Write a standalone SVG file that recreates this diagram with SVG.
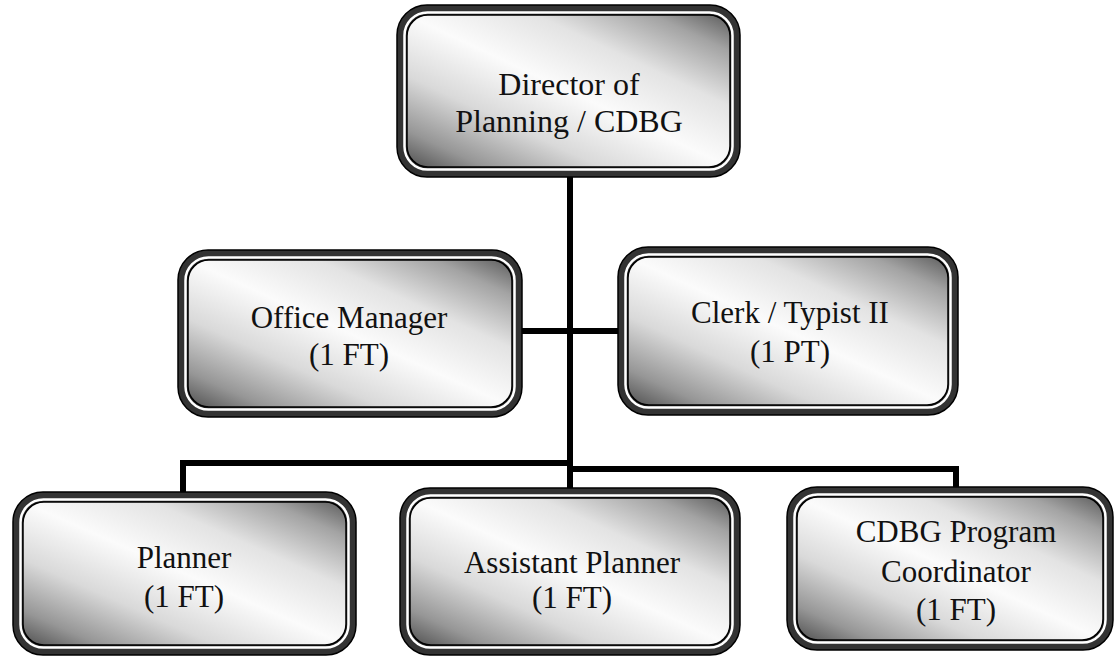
<svg xmlns="http://www.w3.org/2000/svg" width="1115" height="657" viewBox="0 0 1115 657">
<style>
.outer{fill:#333;stroke:#000;stroke-width:1.5}
.ring{fill:none;stroke:#fff;stroke-width:2.5}
.inner{fill:url(#g);stroke:#000;stroke-width:1.5}
.t{font-family:"Liberation Serif","Times New Roman",serif;font-size:31px;fill:#111;text-anchor:middle}
.big{font-size:32px}
.c{stroke:#000;stroke-width:6;fill:none;stroke-linecap:square}
</style>
<defs>
<linearGradient id="g" x1="0" y1="1" x2="1" y2="0">
<stop offset="0" stop-color="#505050"/>
<stop offset="0.12" stop-color="#969696"/>
<stop offset="0.3" stop-color="#d9d9d9"/>
<stop offset="0.5" stop-color="#fbfbfb"/>
<stop offset="0.7" stop-color="#e3e3e3"/>
<stop offset="0.88" stop-color="#a3a3a3"/>
<stop offset="1" stop-color="#5c5c5c"/>
</linearGradient>
</defs>
<rect width="1115" height="657" fill="#fff"/>
<g id="connectors">
<line class="c" x1="570" y1="177" x2="570" y2="486"/>
<line class="c" x1="522" y1="331" x2="618" y2="331"/>
<polyline class="c" points="183,490 183,463 570,463"/>
<polyline class="c" points="570,469 956,469 956,486"/>
</g>
<g id="director">
<rect class="outer" x="397" y="5" width="343" height="172" rx="30"/>
<rect class="ring" x="404.5" y="12.5" width="328" height="157" rx="23"/>
<rect class="inner" x="407" y="15" width="323" height="152" rx="21"/>
<text class="t big" x="569" y="95">Director of</text>
<text class="t big" x="569" y="132">Planning / CDBG</text>
</g>
<g id="office-manager">
<rect class="outer" x="178" y="250" width="344" height="167" rx="30"/>
<rect class="ring" x="185.5" y="257.5" width="329" height="152" rx="23"/>
<rect class="inner" x="188" y="260" width="324" height="147" rx="21"/>
<text class="t" x="349" y="328">Office Manager</text>
<text class="t" x="349" y="365">(1 FT)</text>
</g>
<g id="clerk-typist">
<rect class="outer" x="618" y="247" width="340" height="168" rx="30"/>
<rect class="ring" x="625.5" y="254.5" width="325" height="153" rx="23"/>
<rect class="inner" x="628" y="257" width="320" height="148" rx="21"/>
<text class="t" x="790" y="323">Clerk / Typist II</text>
<text class="t" x="790" y="362">(1 PT)</text>
</g>
<g id="planner">
<rect class="outer" x="13" y="492" width="343" height="163" rx="30"/>
<rect class="ring" x="20.5" y="499.5" width="328" height="148" rx="23"/>
<rect class="inner" x="23" y="502" width="323" height="143" rx="21"/>
<text class="t" x="184" y="568">Planner</text>
<text class="t" x="184" y="607">(1 FT)</text>
</g>
<g id="assistant-planner">
<rect class="outer" x="400" y="488" width="340" height="167" rx="30"/>
<rect class="ring" x="407.5" y="495.5" width="325" height="152" rx="23"/>
<rect class="inner" x="410" y="498" width="320" height="147" rx="21"/>
<text class="t" x="572" y="573">Assistant Planner</text>
<text class="t" x="572" y="608">(1 FT)</text>
</g>
<g id="cdbg-coordinator">
<rect class="outer" x="787" y="487" width="326" height="163" rx="30"/>
<rect class="ring" x="794.5" y="494.5" width="311" height="148" rx="23"/>
<rect class="inner" x="797" y="497" width="306" height="143" rx="21"/>
<text class="t" x="956" y="542">CDBG Program</text>
<text class="t" x="956" y="582">Coordinator</text>
<text class="t" x="956" y="620">(1 FT)</text>
</g>
</svg>
